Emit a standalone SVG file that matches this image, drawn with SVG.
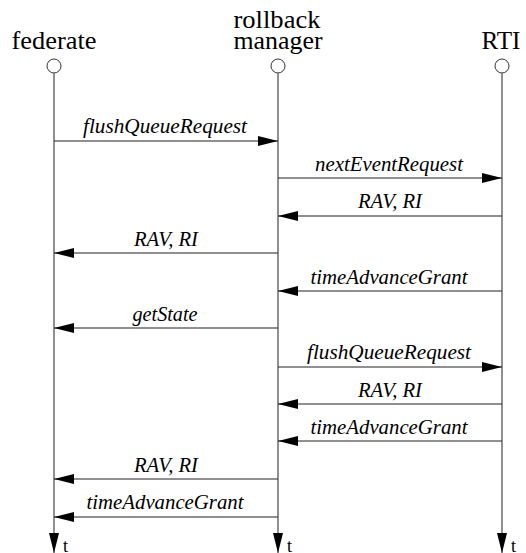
<svg xmlns="http://www.w3.org/2000/svg" width="526" height="553" viewBox="0 0 526 553">
<style>
.hdr{font-family:"Liberation Serif","Times New Roman",serif;font-size:25px;fill:#000;text-anchor:middle}
.lbl{font-family:"Liberation Serif","Times New Roman",serif;font-size:20.5px;font-style:italic;fill:#000;text-anchor:middle}
.t{font-family:"Liberation Serif","Times New Roman",serif;font-size:18px;fill:#000}
.life{stroke:#555;stroke-width:1.3;fill:none}
.head{fill:#fff;stroke:#333;stroke-width:1}
.msg{stroke:#222;stroke-width:1.2;fill:none;marker-end:url(#ah)}
</style>
<defs>
<marker id="ah" markerWidth="20" markerHeight="10" refX="20" refY="5" orient="auto" markerUnits="userSpaceOnUse">
<path d="M0,0 L20,5 L0,10 Z" fill="#000"/>
</marker>
<marker id="ta" markerWidth="10" markerHeight="20" refX="5" refY="20" orient="0" markerUnits="userSpaceOnUse">
<path d="M0,0 L10,0 L5,20 Z" fill="#000"/>
</marker>
</defs>
<g id="federate">
<text class="hdr" x="54" y="49" textLength="85" lengthAdjust="spacingAndGlyphs">federate</text>
<circle class="head" cx="54" cy="66" r="7"/>
<line class="life" x1="54" y1="73" x2="54" y2="553" marker-end="url(#ta)"/>
<text class="t" x="63" y="552">t</text>
</g>
<g id="rollback-manager">
<text class="hdr" x="277" y="28" textLength="87" lengthAdjust="spacingAndGlyphs">rollback</text>
<text class="hdr" x="278" y="49" textLength="89" lengthAdjust="spacingAndGlyphs">manager</text>
<circle class="head" cx="278" cy="66" r="7"/>
<line class="life" x1="278" y1="73" x2="278" y2="553" marker-end="url(#ta)"/>
<text class="t" x="287" y="552">t</text>
</g>
<g id="RTI">
<text class="hdr" x="501" y="49" textLength="39" lengthAdjust="spacingAndGlyphs">RTI</text>
<circle class="head" cx="502" cy="66" r="7"/>
<line class="life" x1="502" y1="73" x2="502" y2="553" marker-end="url(#ta)"/>
<text class="t" x="511" y="552">t</text>
</g>
<g id="connectors">
<line class="msg" x1="54" y1="141" x2="278" y2="141"/>
<text class="lbl" x="165" y="133" textLength="164" lengthAdjust="spacingAndGlyphs">flushQueueRequest</text>
<line class="msg" x1="278" y1="178" x2="502" y2="178"/>
<text class="lbl" x="389" y="171" textLength="148" lengthAdjust="spacingAndGlyphs">nextEventRequest</text>
<line class="msg" x1="502" y1="216" x2="278" y2="216"/>
<text class="lbl" x="390" y="208" textLength="64" lengthAdjust="spacingAndGlyphs">RAV, RI</text>
<line class="msg" x1="278" y1="253" x2="54" y2="253"/>
<text class="lbl" x="166" y="246" textLength="64" lengthAdjust="spacingAndGlyphs">RAV, RI</text>
<line class="msg" x1="502" y1="291" x2="278" y2="291"/>
<text class="lbl" x="389" y="284" textLength="157" lengthAdjust="spacingAndGlyphs">timeAdvanceGrant</text>
<line class="msg" x1="278" y1="328" x2="54" y2="328"/>
<text class="lbl" x="165" y="321" textLength="65" lengthAdjust="spacingAndGlyphs">getState</text>
<line class="msg" x1="278" y1="367" x2="502" y2="367"/>
<text class="lbl" x="389" y="359" textLength="164" lengthAdjust="spacingAndGlyphs">flushQueueRequest</text>
<line class="msg" x1="502" y1="404" x2="278" y2="404"/>
<text class="lbl" x="390" y="397" textLength="64" lengthAdjust="spacingAndGlyphs">RAV, RI</text>
<line class="msg" x1="502" y1="441" x2="278" y2="441"/>
<text class="lbl" x="389" y="434" textLength="157" lengthAdjust="spacingAndGlyphs">timeAdvanceGrant</text>
<line class="msg" x1="278" y1="479" x2="54" y2="479"/>
<text class="lbl" x="166" y="472" textLength="64" lengthAdjust="spacingAndGlyphs">RAV, RI</text>
<line class="msg" x1="278" y1="517" x2="54" y2="517"/>
<text class="lbl" x="165" y="509" textLength="157" lengthAdjust="spacingAndGlyphs">timeAdvanceGrant</text>
</g>
</svg>
